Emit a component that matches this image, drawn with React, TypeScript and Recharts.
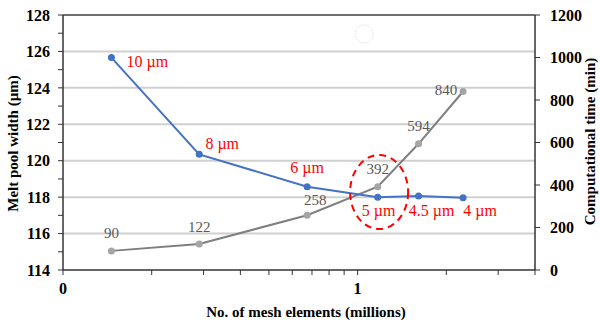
import { CartesianGrid, LabelList, Line, LineChart, ReferenceDot, ReferenceLine, XAxis, YAxis } from 'recharts';

// mesh size of each run, element count (millions), results
const meshSizes = ['10 µm', '8 µm', '6 µm', '5 µm', '4.5 µm', '4 µm'];
const meshElements = [0.146, 0.29, 0.674, 1.17, 1.61, 2.28];
const meltPoolWidth = [125.66, 120.35, 118.57, 117.99, 118.06, 117.97];
const compTime = [90, 122, 258, 392, 594, 840];

const xTicks = [0.1, 0.2, 0.3, 0.4, 0.5, 0.6, 0.7, 0.8, 0.9, 1, 2, 3, 4];
const widthTicks = [114, 115, 116, 117, 118, 119, 120, 121, 122, 123, 124, 125, 126, 127, 128];
const timeTicks = [0, 200, 400, 600, 800, 1000, 1200];
const gridValues = [116, 118, 120, 122, 124, 126];

// label offsets (dx, dy) from each point
const blueOffsets = [[36, 4], [23, -11], [0, -19], [1, 13], [13, 14], [17, 13]];
const grayOffsets = [[0, -18], [0, -17], [8, -15], [0, -18], [0, -18], [-17, -2]];

const FONT = "'Liberation Serif', 'Times New Roman', serif";
const BLUE = '#4472C4';
const GRAY_LINE = '#7f7f7f';
const GRAY_DOT = '#a5a5a5';
const RED = '#FF0000';

const data = meshElements.map((x, i) => ({
    x,
    size: meshSizes[i],
    width: meltPoolWidth[i],
    time: compTime[i],
}));

const tickStyle = { fill: '#000', fontSize: 16, fontWeight: 'bold', fontFamily: FONT };
const titleStyle = { fill: '#000', fontSize: 15, fontWeight: 'bold', fontFamily: FONT };

const BlueLabel = (props: any) => {
    const { x, y, index, value } = props;
    const [dx, dy] = blueOffsets[index] || [0, 0];
    return (
        <text x={x + dx} y={y + dy} textAnchor="middle" dominantBaseline="central"
            fill={RED} fontSize={16} fontFamily={FONT}>
            {value}
        </text>
    );
};

const GrayLabel = (props: any) => {
    const { x, y, index, value } = props;
    const [dx, dy] = grayOffsets[index] || [0, 0];
    return (
        <text x={x + dx} y={y + dy} textAnchor="middle" dominantBaseline="central"
            fill="#595959" fontSize={15} fontFamily={FONT}>
            {value}
        </text>
    );
};

const App = () => {
    return (
        <div style={{ position: 'absolute', left: 0, top: 0, background: '#fff', fontFamily: FONT }}>
            <LineChart width={600} height={322} data={data} margin={{ top: 15, right: 0, bottom: 0, left: 0 }}>
                <CartesianGrid yAxisId="left" vertical={false} horizontalValues={gridValues}
                    stroke="#d0d0d0" strokeWidth={2} />
                <XAxis
                    dataKey="x"
                    type="number"
                    scale="log"
                    domain={[0.1, 4]}
                    ticks={xTicks}
                    interval={0}
                    height={52}
                    tickSize={5}
                    tickMargin={8}
                    tick={tickStyle}
                    axisLine={{ stroke: '#333', strokeWidth: 1.5 }}
                    tickLine={{ stroke: '#333' }}
                    tickFormatter={(v: number) => (v === 0.1 ? '0' : v === 1 ? '1' : '')}
                    label={{
                        content: (p: any) => {
                            const vb = p.viewBox;
                            return (
                                <text x={vb.x + vb.width / 2 + 7} y={vb.y + 47} textAnchor="middle" {...titleStyle}>
                                    No. of mesh elements (millions)
                                </text>
                            );
                        },
                    }}
                />
                <YAxis
                    yAxisId="left"
                    orientation="left"
                    domain={[114, 128]}
                    ticks={widthTicks}
                    interval={0}
                    width={63}
                    tickSize={5}
                    tickMargin={8}
                    tick={tickStyle}
                    axisLine={{ stroke: '#333', strokeWidth: 1.5 }}
                    tickLine={{ stroke: '#333' }}
                    tickFormatter={(v: number) => (v % 2 === 0 ? String(v) : '')}
                    label={{
                        content: (p: any) => {
                            const vb = p.viewBox;
                            const cx = vb.x + 18;
                            const cy = vb.y + vb.height / 2 + 1;
                            return (
                                <text x={cx} y={cy} transform={`rotate(-90 ${cx} ${cy})`} textAnchor="middle" {...titleStyle}>
                                    Melt pool width (µm)
                                </text>
                            );
                        },
                    }}
                />
                <YAxis
                    yAxisId="right"
                    orientation="right"
                    domain={[0, 1200]}
                    ticks={timeTicks}
                    interval={0}
                    width={65}
                    tickSize={5}
                    tickMargin={10}
                    tick={tickStyle}
                    axisLine={{ stroke: '#333', strokeWidth: 1.5 }}
                    tickLine={{ stroke: '#333' }}
                    label={{
                        content: (p: any) => {
                            const vb = p.viewBox;
                            const cx = vb.x + vb.width - 5;
                            const cy = vb.y + vb.height / 2 - 1;
                            return (
                                <text x={cx} y={cy} transform={`rotate(-90 ${cx} ${cy})`} textAnchor="middle" {...titleStyle}>
                                    Computational time (min)
                                </text>
                            );
                        },
                    }}
                />
                <ReferenceLine yAxisId="left" y={128} stroke="#404040" strokeWidth={1.5} />

                <Line
                    yAxisId="right"
                    dataKey="time"
                    stroke={GRAY_LINE}
                    strokeWidth={2}
                    dot={{ r: 3.5, fill: GRAY_DOT, stroke: GRAY_DOT, strokeWidth: 0 }}
                    isAnimationActive={false}
                >
                    <LabelList dataKey="time" content={GrayLabel} />
                </Line>
                <Line
                    yAxisId="left"
                    dataKey="width"
                    stroke={BLUE}
                    strokeWidth={2}
                    dot={{ r: 3.5, fill: BLUE, stroke: BLUE, strokeWidth: 0 }}
                    isAnimationActive={false}
                >
                    <LabelList dataKey="size" content={BlueLabel} />
                </Line>

                <ReferenceDot
                    yAxisId="left"
                    x={1.183}
                    y={118.28}
                    shape={(p: any) => (
                        <ellipse cx={p.cx} cy={p.cy} rx={29} ry={37} fill="none"
                            stroke={RED} strokeWidth={2} strokeDasharray="7 5" />
                    )}
                />
                <ReferenceDot yAxisId="left" x={1.052} y={126.96} r={9} fill="#fff"
                    stroke="#e4e4e4" strokeWidth={1} strokeDasharray="2 1" />
            </LineChart>
        </div>
    );
};

export default App;
